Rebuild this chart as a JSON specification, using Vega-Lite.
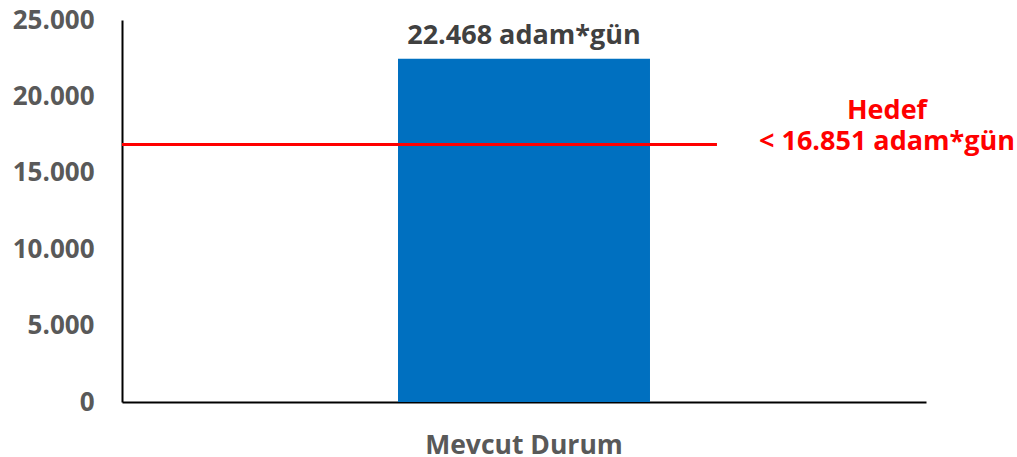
{
  "$schema": "https://vega.github.io/schema/vega-lite/v6.json",
  "width": 804,
  "height": 382,
  "autosize": {"type": "none"},
  "padding": {"left": 122, "top": 20, "right": 91, "bottom": 55},
  "background": "white",
  "config": {
    "locale": {"number": {"decimal": ",", "thousands": ".", "grouping": [3], "currency": ["", ""]}},
    "view": {"stroke": null},
    "font": "Open Sans"
  },
  "datasets": {
    "bars": [{"kategori": "Mevcut Durum", "deger": 22468, "etiket": "22.468 adam*gün"}],
    "hedef": [{"hedef": 16851, "bas": 0, "son": 0.74, "etiketX": 0.9515, "etiket": "Hedef\n< 16.851 adam*gün"}]
  },
  "layer": [
    {
      "data": {"name": "bars"},
      "mark": {"type": "bar", "color": "#0070C0"},
      "encoding": {
        "x": {
          "field": "kategori", "type": "nominal",
          "scale": {"paddingInner": 0.087, "paddingOuter": 1},
          "axis": {
            "title": null, "labelAngle": 0, "ticks": false, "tickSize": 0, "labelLimit": 0,
            "labelPadding": 30, "labelFont": "Open Sans", "labelFontWeight": "bold",
            "labelFontSize": 26.5, "labelColor": "#595959", "labelBaseline": "top",
            "domainColor": "#000000", "domainWidth": 2
          }
        },
        "y": {
          "field": "deger", "type": "quantitative",
          "scale": {"domain": [0, 25000], "nice": false},
          "axis": {
            "title": null, "values": [0, 5000, 10000, 15000, 20000, 25000],
            "format": ",d", "grid": false, "ticks": false, "tickSize": 0,
            "labelPadding": 28, "labelFont": "Open Sans", "labelFontWeight": "bold",
            "labelFontSize": 26, "labelColor": "#595959",
            "domainColor": "#000000", "domainWidth": 2
          }
        }
      }
    },
    {
      "data": {"name": "bars"},
      "mark": {"type": "text", "font": "Open Sans", "fontWeight": "bold", "fontSize": 27, "color": "#404040", "baseline": "alphabetic", "dy": -15},
      "encoding": {
        "x": {"field": "kategori", "type": "nominal", "scale": {"paddingInner": 0.087, "paddingOuter": 1}, "axis": null},
        "y": {"field": "deger", "type": "quantitative"},
        "text": {"field": "etiket", "type": "nominal"}
      }
    },
    {
      "data": {"name": "hedef"},
      "mark": {"type": "rule", "color": "#FF0000", "strokeWidth": 3},
      "encoding": {
        "x": {"field": "bas", "type": "quantitative", "scale": {"domain": [0, 1], "nice": false}, "axis": null},
        "x2": {"field": "son"},
        "y": {"field": "hedef", "type": "quantitative"}
      }
    },
    {
      "data": {"name": "hedef"},
      "mark": {"type": "text", "font": "Open Sans", "fontWeight": "bold", "fontSize": 27, "color": "#FF0000", "baseline": "alphabetic", "align": "center", "lineBreak": "\n", "lineHeight": 31, "dy": -26},
      "encoding": {
        "x": {"field": "etiketX", "type": "quantitative", "scale": {"domain": [0, 1], "nice": false}, "axis": null},
        "y": {"field": "hedef", "type": "quantitative"},
        "text": {"field": "etiket", "type": "nominal"}
      }
    }
  ],
  "resolve": {"scale": {"x": "independent"}}
}
